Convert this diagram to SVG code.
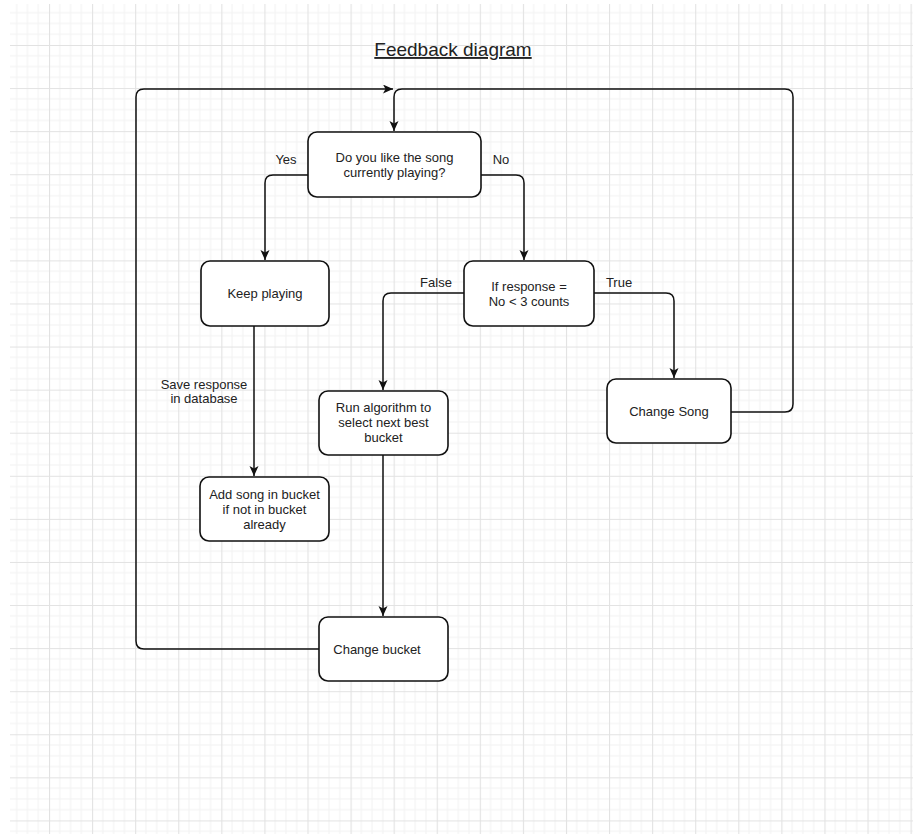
<svg xmlns="http://www.w3.org/2000/svg" width="913" height="834" viewBox="0 0 913 834">
<style>
.node rect{fill:#fff;stroke:#111;stroke-width:1.6}
text{font-family:"Liberation Sans",Arial,sans-serif;font-size:13px;fill:#222;text-anchor:middle}
.conn path{fill:none;stroke:#111;stroke-width:1.5}
.title{font-size:19px;text-decoration:underline}
</style>
<defs>
<pattern id="grid" patternUnits="userSpaceOnUse" x="5.92" y="1.92" width="43.08" height="43.08">
<path d="M10.77 0V43.08M21.54 0V43.08M32.31 0V43.08M0 10.77H43.08M0 21.54H43.08M0 32.31H43.08" stroke="#f2f2f2" stroke-width="1" fill="none"/>
<path d="M0.5 0V43.08M0 0.5H43.08" stroke="#e2e2e2" stroke-width="1.2" fill="none"/>
</pattern>
<marker id="arr" markerUnits="userSpaceOnUse" markerWidth="12" markerHeight="10" refX="10" refY="4.5" orient="auto">
<path d="M0 0 L10 4.5 L0 9 L2.5 4.5 Z" fill="#111"/>
</marker>
</defs>
<rect width="913" height="834" fill="#fff"/>
<rect x="10" y="4" width="903" height="830" fill="url(#grid)"/>
<text id="title" class="title" x="453" y="56">Feedback diagram</text>
<g class="conn" id="connectors">
<path d="M308 175H273Q265 175 265 183V260" marker-end="url(#arr)"/>
<path d="M481 175H516Q524 175 524 183V260" marker-end="url(#arr)"/>
<path d="M464 293H391Q383 293 383 301V390" marker-end="url(#arr)"/>
<path d="M594 293H666Q674 293 674 301V378" marker-end="url(#arr)"/>
<path d="M254 326V476" marker-end="url(#arr)"/>
<path d="M383 455V616" marker-end="url(#arr)"/>
<path d="M731 412H785Q793 412 793 404V97Q793 89 785 89H402Q394 89 394 97V131" marker-end="url(#arr)"/>
<path d="M319 649H144Q136 649 136 641V97Q136 89 144 89H393" marker-end="url(#arr)"/>
<text x="286" y="164">Yes</text>
<text x="501" y="164">No</text>
<text x="436" y="287">False</text>
<text x="619" y="287">True</text>
<text x="204" y="388.5">Save response</text>
<text x="204" y="403">in database</text>
</g>
<g class="node" id="q1">
<rect x="308" y="132" width="173" height="65" rx="9"/>
<text x="394.5" y="161.5">Do you like the song</text>
<text x="394.5" y="177">currently playing?</text>
</g>
<g class="node" id="keep">
<rect x="201" y="261" width="128" height="65" rx="9"/>
<text x="265" y="297.5">Keep playing</text>
</g>
<g class="node" id="q2">
<rect x="464" y="261" width="130" height="65" rx="9"/>
<text x="529" y="290.5">If response =</text>
<text x="529" y="306">No &lt; 3 counts</text>
</g>
<g class="node" id="run">
<rect x="319" y="391" width="129" height="64" rx="9"/>
<text x="383.5" y="412">Run algorithm to</text>
<text x="383.5" y="427">select next best</text>
<text x="383.5" y="442">bucket</text>
</g>
<g class="node" id="add">
<rect x="200" y="477" width="129" height="64" rx="9"/>
<text x="264.5" y="498.5">Add song in bucket</text>
<text x="264.5" y="513.5">if not in bucket</text>
<text x="264.5" y="528.5">already</text>
</g>
<g class="node" id="song">
<rect x="607" y="379" width="124" height="64" rx="9"/>
<text x="669" y="416">Change Song</text>
</g>
<g class="node" id="bucket">
<rect x="319" y="617" width="129" height="64" rx="9"/>
<text x="377" y="653.5">Change bucket</text>
</g>
</svg>
